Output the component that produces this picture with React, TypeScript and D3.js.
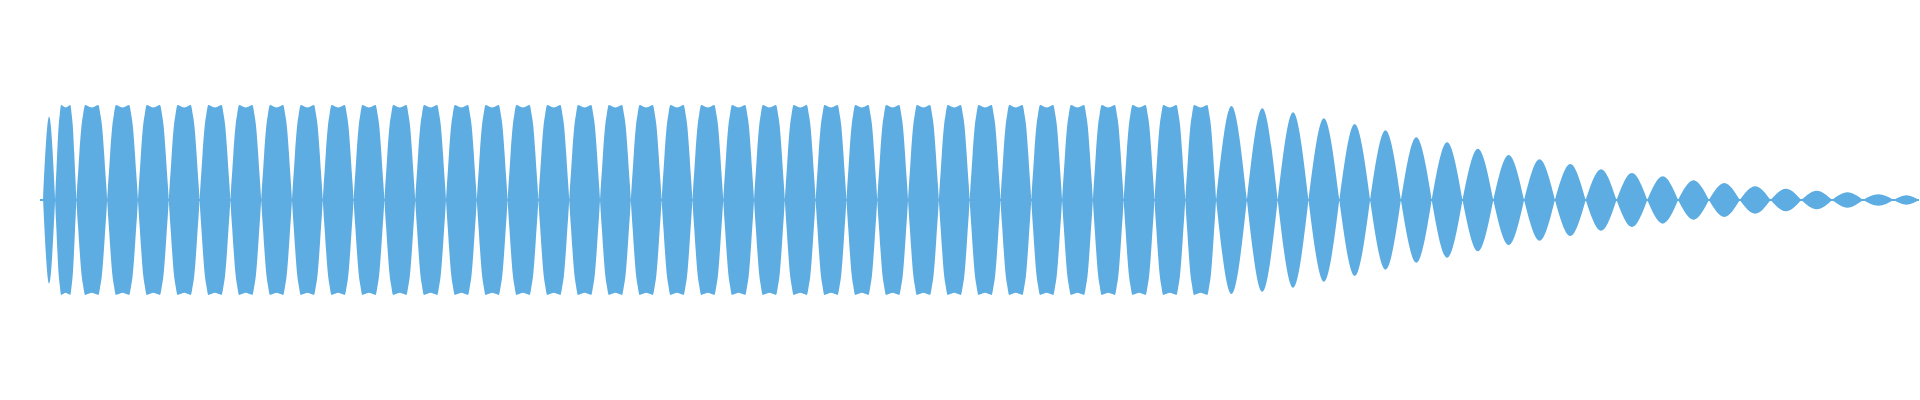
import React, { useEffect, useRef } from 'react';
import * as d3 from 'd3';

// nulls of the waveform envelope, in ms
const nulls = [
  1.0, 4.9,
  11.8, 21.8, 31.8, 41.8, 51.8, 61.8, 71.8, 81.8, 91.8, 101.8,
  111.8, 121.8, 131.8, 141.8, 151.8, 161.8, 171.8, 181.8, 191.8, 201.8,
  211.8, 221.8, 231.8, 241.8, 251.8, 261.8, 271.8, 281.8, 291.8, 301.8,
  311.8, 321.8, 331.8, 341.8, 351.8, 361.8, 371.8, 381.8, 391.8, 401.8,
  411.8, 421.8, 431.8, 441.8, 451.8, 461.8, 471.8, 481.8, 491.8, 501.8,
  511.8, 521.8, 531.8, 541.8, 551.8, 561.8, 571.8, 581.8, 591.8, 601.8,
  610.0,
];

// visible peak of each lobe between two nulls (1 = full scale, clipped)
const peaks = [
  0.88,
  1, 1, 1, 1, 1, 1, 1, 1, 1, 1,
  1, 1, 1, 1, 1, 1, 1, 1, 1, 1,
  1, 1, 1, 1, 1, 1, 1, 1, 1, 1,
  1, 1, 1, 1, 1, 1, 1, 1,
  0.99, 0.965, 0.923, 0.86, 0.8, 0.733, 0.66, 0.607, 0.54,
  0.474, 0.428, 0.379, 0.323, 0.284, 0.249, 0.207, 0.179, 0.144,
  0.119, 0.098, 0.081, 0.06, 0.049,
];

// outline of a clipped lobe: position in the lobe and level
const clipPos = [0, 0.03, 0.06, 0.1, 0.17, 0.22, 0.285, 0.37, 0.5, 0.63, 0.715, 0.78, 0.83, 0.9, 0.94, 0.97, 1];
const clipLevel = [0, 0.16, 0.3, 0.5, 0.79, 0.9, 1, 0.99, 0.975, 0.99, 1, 0.9, 0.79, 0.5, 0.3, 0.16, 0];

const width = 1920;
const height = 400;
const color = '#5dade2';

const Waveform: React.FC = () => {
  const svgRef = useRef<SVGSVGElement | null>(null);

  useEffect(() => {
    if (!svgRef.current) return;
    const svg = d3.select(svgRef.current);
    svg.selectAll('*').remove();

    const x = d3.scaleLinear().domain([0, 610]).range([40, 1919]);
    const y = d3.scaleLinear().domain([-1, 1]).range([295, 105]);

    const g = svg.append('g').attr('fill', color);

    // thin band along the zero line
    g.append('line')
      .attr('x1', x(0))
      .attr('x2', x(nulls[nulls.length - 1]))
      .attr('y1', y(0))
      .attr('y2', y(0))
      .attr('stroke', color)
      .attr('stroke-width', 2);

    const lobes = peaks.map((p, i) => ({ start: nulls[i], end: nulls[i + 1], peak: p }));

    lobes.forEach(l => {
      const w = l.end - l.start;
      const clipped = l.peak >= 1;
      const pts: [number, number][] = clipped
        ? clipPos.map((f, j) => [l.start + f * w, clipLevel[j]])
        : [[l.start, 0], [(l.start + l.end) / 2, l.peak], [l.end, 0]];

      const area = d3.area<[number, number]>()
        .x(d => x(d[0]))
        .y0(d => y(-d[1]))
        .y1(d => y(d[1]))
        .curve(clipped ? d3.curveMonotoneX : d3.curveNatural);

      g.append('path').attr('d', area(pts) ?? '');
    });
  }, []);

  return (
    <svg
      ref={svgRef}
      width={width}
      height={height}
      style={{ position: 'fixed', top: 0, left: 0, background: '#fff' }}
    />
  );
};

export default function App() {
  return <Waveform />;
}
